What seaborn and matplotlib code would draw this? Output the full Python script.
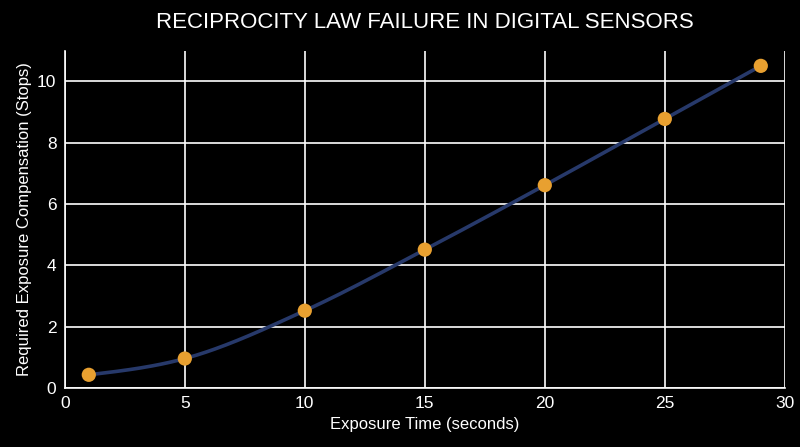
import numpy as np
import pandas as pd
import matplotlib
matplotlib.use("Agg")
import matplotlib.pyplot as plt
import seaborn as sns

exposure_s = [1, 5, 10, 15, 20, 25, 29]
compensation_stops = [0.43, 0.96, 2.52, 4.51, 6.61, 8.77, 10.5]

LINE_COLOR = "#27396a"
DOT_COLOR = "#e8a030"


def monotone_curve(x, y, n=300):
    # Fritsch-Carlson monotone cubic, like d3's curveMonotoneX
    x = np.asarray(x, float)
    y = np.asarray(y, float)
    h = np.diff(x)
    d = np.diff(y) / h
    m = np.zeros_like(y)
    for i in range(1, len(x) - 1):
        if d[i - 1] * d[i] <= 0:
            m[i] = 0
        else:
            p = (d[i - 1] * h[i] + d[i] * h[i - 1]) / (h[i - 1] + h[i])
            m[i] = np.sign(p) * min(abs(p), 2 * min(abs(d[i - 1]), abs(d[i])))
    m[0] = (3 * d[0] - m[1]) / 2
    m[-1] = (3 * d[-1] - m[-2]) / 2
    xs = np.linspace(x[0], x[-1], n)
    idx = np.clip(np.searchsorted(x, xs) - 1, 0, len(h) - 1)
    t = (xs - x[idx]) / h[idx]
    h00 = 2 * t**3 - 3 * t**2 + 1
    h10 = t**3 - 2 * t**2 + t
    h01 = -2 * t**3 + 3 * t**2
    h11 = t**3 - t**2
    ys = h00 * y[idx] + h10 * h[idx] * m[idx] + h01 * y[idx + 1] + h11 * h[idx] * m[idx + 1]
    return xs, ys


sns.set_theme(style="darkgrid")
plt.rcParams["font.family"] = ["Liberation Sans", "DejaVu Sans"]

df = pd.DataFrame({"Exposure": exposure_s, "Stops": compensation_stops})
cx, cy = monotone_curve(exposure_s, compensation_stops)
curve = pd.DataFrame({"Exposure": cx, "Stops": cy})

fig, ax = plt.subplots(figsize=(8, 4.47), dpi=100)
fig.patch.set_facecolor("black")
ax.set_facecolor("black")

sns.lineplot(data=curve, x="Exposure", y="Stops", color=LINE_COLOR, linewidth=2.6, ax=ax)
sns.scatterplot(data=df, x="Exposure", y="Stops", color=DOT_COLOR, s=105,
                edgecolor="none", zorder=5, ax=ax)

ax.set_xlim(0, 30)
ax.set_ylim(0, 11)
ax.set_xticks(range(0, 31, 5))
ax.set_yticks(range(0, 11, 2))
ax.grid(True, color="white", linewidth=1.2)
ax.tick_params(colors="white", labelsize=12.5, length=0, pad=6)
for side in ["top", "right"]:
    ax.spines[side].set_visible(False)
for side in ["left", "bottom"]:
    ax.spines[side].set_color("white")
    ax.spines[side].set_linewidth(1.2)

ax.set_xlabel("Exposure Time (seconds)", color="white", fontsize=12)
ax.set_ylabel("Required Exposure Compensation (Stops)", color="white", fontsize=12)
ax.set_title("RECIPROCITY LAW FAILURE IN DIGITAL SENSORS", color="white",
             fontsize=16, pad=16)

fig.subplots_adjust(left=0.081, right=0.981, bottom=0.132, top=0.887)
fig.savefig("out.png", facecolor="black")
